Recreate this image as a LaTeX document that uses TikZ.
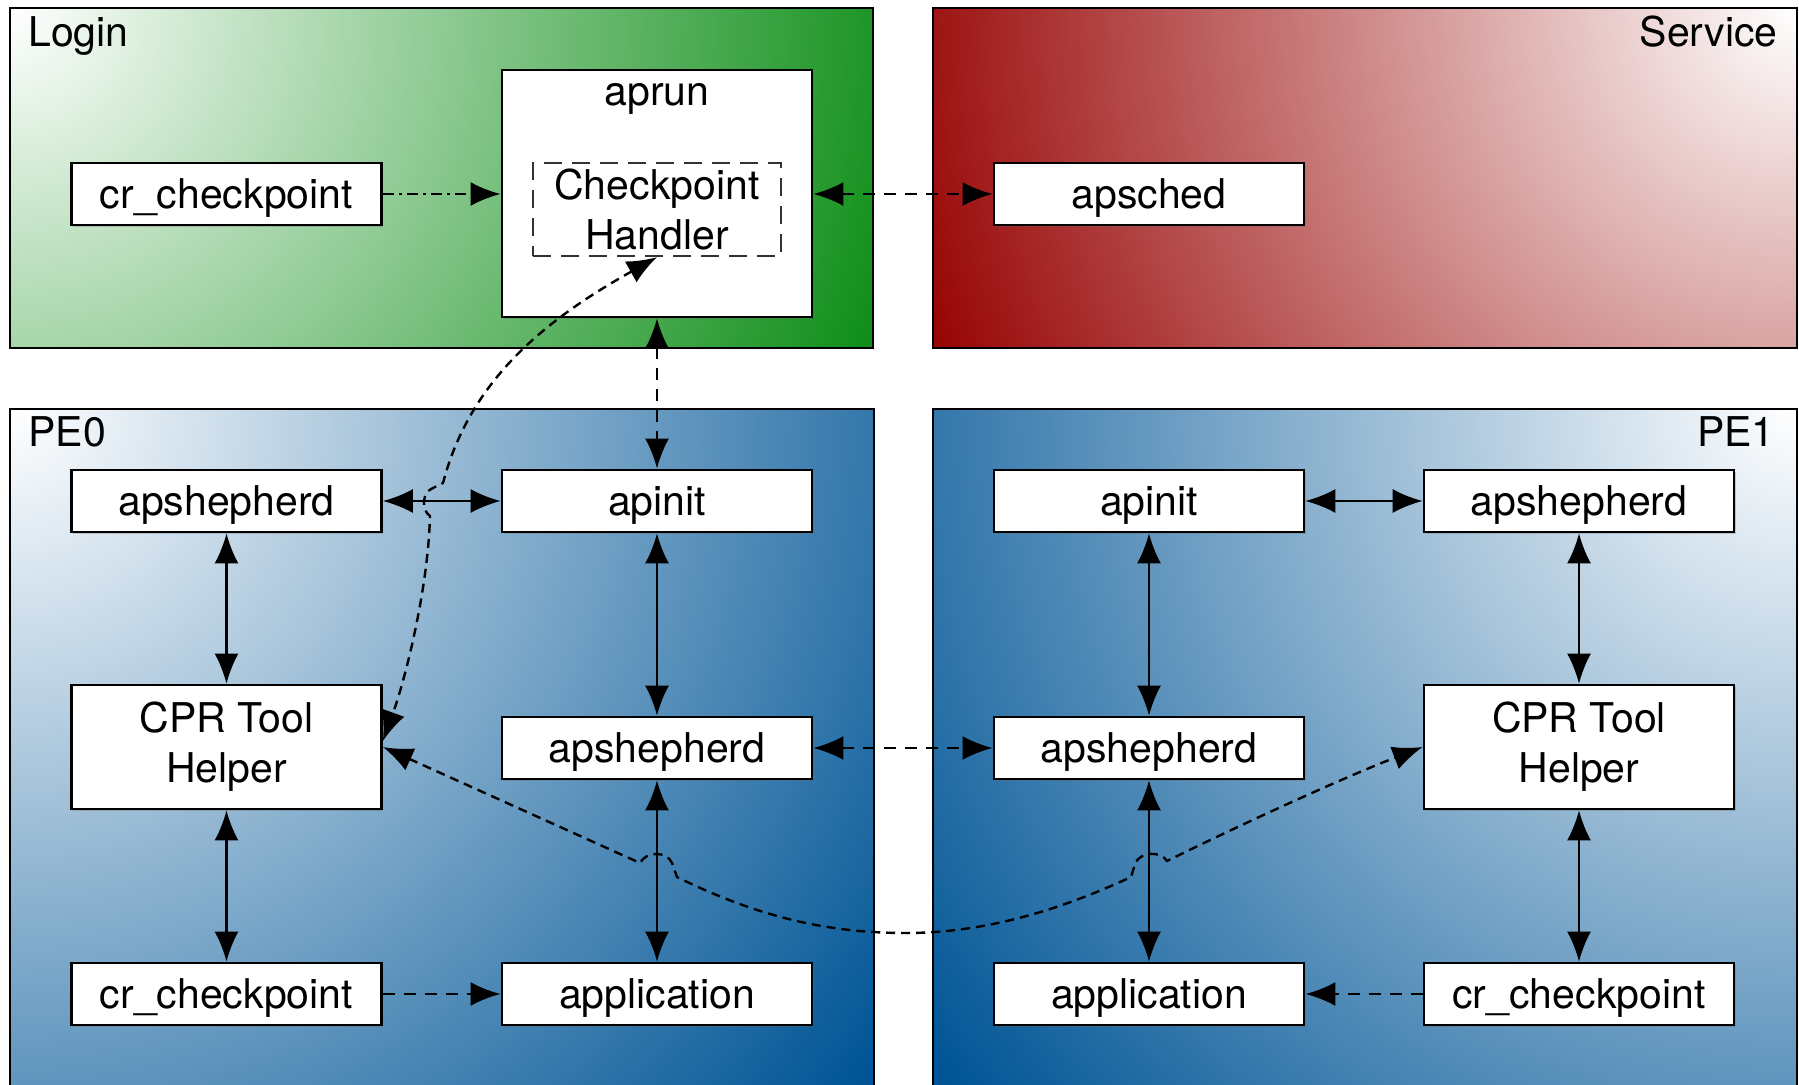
\documentclass[tikz,border=0pt]{standalone}
\usepackage{fontspec}
\setmainfont{TeX Gyre Heros}
\usetikzlibrary{arrows.meta,shadows}
\definecolor{dkgreen}{RGB}{10,140,20}
\definecolor{dkred}{RGB}{150,0,0}
\definecolor{dkblue}{RGB}{0,85,150}
\pgfdeclareradialshading{greenrad}{\pgfpointorigin}{color(0bp)=(white); color(25bp)=(dkgreen); color(50bp)=(dkgreen)}
\pgfdeclareradialshading{redrad}{\pgfpointorigin}{color(0bp)=(white); color(25bp)=(dkred); color(50bp)=(dkred)}
\pgfdeclareradialshading{bluerad}{\pgfpointorigin}{color(0bp)=(white); color(25bp)=(dkblue); color(50bp)=(dkblue)}
\tikzset{
  every node/.style={font=\fontsize{20.5pt}{25pt}\selectfont},
  panel/.style={draw=black, line width=1.1pt},
  lbl/.style={inner sep=0pt},
  boxbase/.style={draw=black, fill=white, line width=1.4pt, minimum width=155pt, inner sep=0pt,
    drop shadow={shadow xshift=0.8pt, shadow yshift=-0.8pt, fill=black!60, opacity=0.3}},
  box/.style={boxbase, minimum height=31pt, text height=14.5pt, text depth=0pt},
  mbox/.style={boxbase, minimum height=62pt, align=center},
  hbox/.style={draw=black!80, dash pattern=on 9pt off 5pt, line width=1.2pt, minimum width=124pt, minimum height=46.5pt, inner sep=0pt, align=center},
  sconn/.style={line width=1.1pt},
  dconn/.style={line width=1.3pt, dash pattern=on 6pt off 4.5pt},
  ddconn/.style={line width=1.3pt, dash pattern=on 5.5pt off 2.5pt on 1.5pt off 2.5pt},
  cconn/.style={line width=1.2pt, dash pattern=on 4.5pt off 3pt},
}
\begin{document}
\begin{tikzpicture}[x=0.5pt,y=-0.5pt, >={Latex[length=15pt,width=12pt]}]
\useasboundingbox (0,0) rectangle (1799,1085);
% panels
\begin{scope}
\clip (10,8) rectangle (873,348);
\fill[dkgreen] (10,8) rectangle (873,348);
\shade[shading=greenrad] (10,8) circle (470pt);
\end{scope}
\draw[panel] (10,8) rectangle (873,348);
\begin{scope}
\clip (933,8) rectangle (1797,348);
\fill[dkred] (933,8) rectangle (1797,348);
\shade[shading=redrad] (1797,8) circle (470pt);
\end{scope}
\draw[panel] (933,8) rectangle (1797,348);
\begin{scope}
\clip (10,409) rectangle (874,1100);
\fill[dkblue] (10,409) rectangle (874,1100);
\shade[shading=bluerad] (10,409) circle (540pt);
\end{scope}
\draw[panel] (10,409) rectangle (874,1100);
\begin{scope}
\clip (933,409) rectangle (1797,1100);
\fill[dkblue] (933,409) rectangle (1797,1100);
\shade[shading=bluerad] (1797,409) circle (540pt);
\end{scope}
\draw[panel] (933,409) rectangle (1797,1100);
% labels
\node[lbl, anchor=base west] (tLogin) at (28,47) {Login};
\node[lbl, anchor=base east] (tService) at (1778,47) {Service};
\node[lbl, anchor=base west] (tPE0) at (28,447) {PE0};
\node[lbl, anchor=base east] (tPE1) at (1775,447) {PE1};
% login / service
\node[box] (crL) at (226.5,194) {cr\_checkpoint};
\node[boxbase, minimum height=123.5pt] (aprun) at (657,193.5) {};
\node[lbl, anchor=base] (aprunT) at (657,106) {aprun};
\node[hbox] (handler) at (657,209.5) {Checkpoint\\Handler};
\node[box] (apsched) at (1149,194) {apsched};
% PE0
\node[box] (ash0) at (226.5,501) {apshepherd};
\node[box] (api0) at (657,501) {apinit};
\node[mbox] (cpr0) at (226.5,747) {CPR Tool\\Helper};
\node[box] (ashm0) at (657,748) {apshepherd};
\node[box] (cr0) at (226.5,994) {cr\_checkpoint};
\node[box] (app0) at (657,994) {application};
% PE1
\node[box] (api1) at (1149,501) {apinit};
\node[box] (ash1) at (1579,501) {apshepherd};
\node[box] (ashm1) at (1149,748) {apshepherd};
\node[mbox] (cpr1) at (1579,747) {CPR Tool\\Helper};
\node[box] (app1) at (1149,994) {application};
\node[box] (cr1) at (1579,994) {cr\_checkpoint};
% connectors
\draw[ddconn,->] (crL.east) -- (crL.east -| aprun.west);
\draw[dconn,<->] (aprun.east |- apsched.west) -- (apsched.west);
\draw[dconn,<->] (aprun.south) -- (api0.north);
\draw[sconn,<->] (ash0.east) -- (api0.west);
\draw[sconn,<->] (ash0.south) -- (cpr0.north);
\draw[sconn,<->] (cpr0.south) -- (cr0.north);
\draw[sconn,<->] (api0.south) -- (ashm0.north);
\draw[sconn,<->] (ashm0.south) -- (app0.north);
\draw[dconn,->] (cr0.east) -- (app0.west);
\draw[dconn,<->] (ashm0.east) -- (ashm1.west);
\draw[sconn,<->] (api1.east) -- (ash1.west);
\draw[sconn,<->] (api1.south) -- (ashm1.north);
\draw[sconn,<->] (ashm1.south) -- (app1.north);
\draw[sconn,<->] (ash1.south) -- (cpr1.north);
\draw[sconn,<->] (cpr1.south) -- (cr1.north);
\draw[dconn,->] (cr1.west) -- (app1.east);
% curved dashed connectors with line jumps
\draw[cconn,<->] (handler.south) .. controls (545,320) and (470,380) .. (443,483)
  -- (433,488) .. controls (422,492) and (421,510) .. (430,516)
  .. controls (428,590) and (405,680) .. ([yshift=3pt]cpr0.east);
\draw[cconn,<->] (cpr0.east) -- (640,863)
  .. controls (646,851) and (667,851) .. (672,863) -- (677,877)
  .. controls (760,918) and (830,933) .. (906,933)
  .. controls (985,933) and (1060,910) .. (1131,877) -- (1135,864)
  .. controls (1140,851) and (1161,851) .. (1167,861)
  .. controls (1250,820) and (1350,775) .. (cpr1.west);
\end{tikzpicture}
\end{document}
